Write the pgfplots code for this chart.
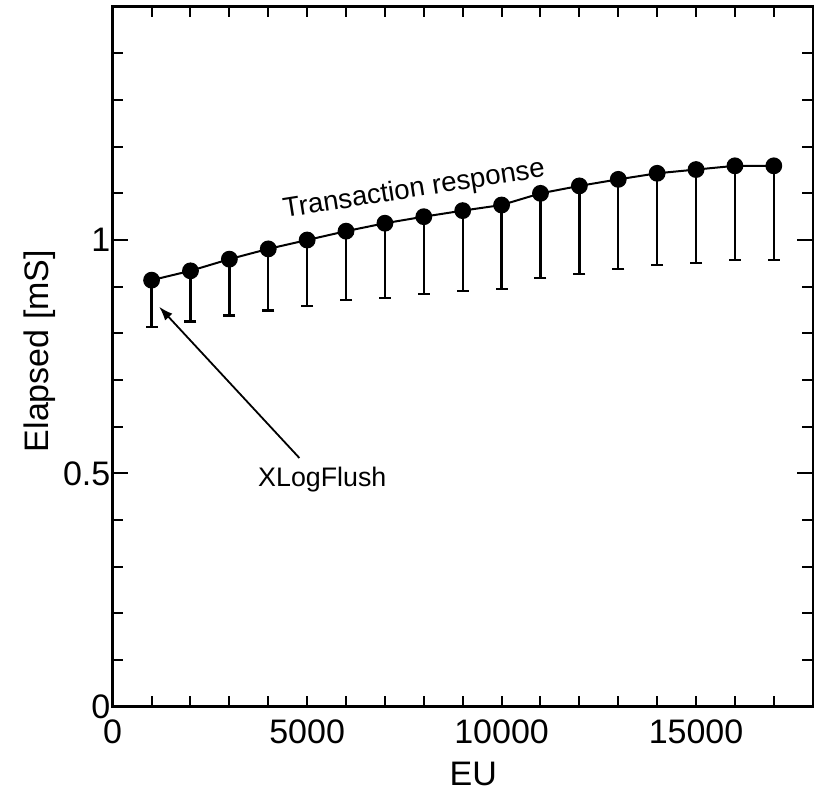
\documentclass[border=0pt]{standalone}
\usepackage{fontspec}
\setmainfont{Liberation Sans}
\usepackage{pgfplots}
\pgfplotsset{compat=1.18}
\usetikzlibrary{arrows.meta}

\begin{document}
\begin{tikzpicture}
\begin{axis}[
  scale only axis,
  width=350pt, height=350pt,
  xmin=0, xmax=18000,
  ymin=0, ymax=1.5,
  xtick={0,5000,10000,15000},
  minor xtick={1000,2000,...,17000},
  ytick={0,0.5,1},
  yticklabels={0,0.5,1},
  minor ytick={0.1,0.2,0.3,0.4,0.6,0.7,0.8,0.9,1.1,1.2,1.3,1.4},
  tick align=inside,
  major tick length=5.35pt,
  minor tick length=5.35pt,
  tick style={black, line width=1pt},
  axis line style={line width=1.2pt},
  scaled x ticks=false,
  /pgf/number format/set thousands separator={},
  /pgf/number format/assume math mode=true,
  ticklabel style={font=\fontsize{17}{20}\selectfont},
  x tick label style={inner sep=0pt, yshift=-6.5pt},
  y tick label style={inner sep=0pt, xshift=-1pt},
  xlabel={EU},
  ylabel={Elapsed [mS]},
  label style={font=\fontsize{17}{20}\selectfont},
  xlabel style={at={(axis description cs:0.515,0)}, anchor=north, yshift=-27.6pt, inner sep=0pt},
  ylabel style={at={(axis description cs:-0.128,0.508)}, anchor=north, inner sep=0pt},
  clip=false,
]
\addplot[black, line width=1pt, mark=*, mark size=3.7pt, mark options={fill=black},
  error bars/.cd, y dir=minus, y explicit,
  error mark options={rotate=90, mark size=3pt, line width=1.2pt},
  error bar style={line width=1.2pt}]
coordinates {
  (1000,0.914)  +- (0,0.100)
  (2000,0.934)  +- (0,0.109)
  (3000,0.959)  +- (0,0.121)
  (4000,0.981)  +- (0,0.132)
  (5000,1.000)  +- (0,0.141)
  (6000,1.019)  +- (0,0.148)
  (7000,1.036)  +- (0,0.160)
  (8000,1.050)  +- (0,0.166)
  (9000,1.063)  +- (0,0.172)
  (10000,1.075) +- (0,0.180)
  (11000,1.100) +- (0,0.181)
  (12000,1.116) +- (0,0.189)
  (13000,1.130) +- (0,0.192)
  (14000,1.143) +- (0,0.197)
  (15000,1.151) +- (0,0.200)
  (16000,1.159) +- (0,0.202)
  (17000,1.159) +- (0,0.202)
};

\node[rotate=9, font=\fontsize{13.8}{16}\selectfont] at (axis cs:7750,1.107) {Transaction response};
\node[inner sep=0pt, font=\fontsize{13.4}{16}\selectfont] at (axis cs:5390,0.486) {XLogFlush};
\draw[-{Latex[length=7pt,width=5pt]}, line width=0.9pt] (axis cs:4800,0.533) -- (axis cs:1195,0.857);

% the labelled y ticks are a bit longer than the rest, on both sides
\draw[line width=1pt] (axis cs:0,0.5) -- ++(7.85pt,0);
\draw[line width=1pt] (axis cs:0,1) -- ++(7.85pt,0);
\draw[line width=1pt] (axis cs:18000,0.5) -- ++(-7.85pt,0);
\draw[line width=1pt] (axis cs:18000,1) -- ++(-7.85pt,0);

\coordinate (bl) at (rel axis cs:0,0);
\coordinate (tr) at (rel axis cs:1,1);
\end{axis}
\pgfresetboundingbox
\path[use as bounding box] ([shift={(-56.35pt,-42.65pt)}]bl) rectangle ([shift={(0.65pt,3.35pt)}]tr);
\end{tikzpicture}
\end{document}
